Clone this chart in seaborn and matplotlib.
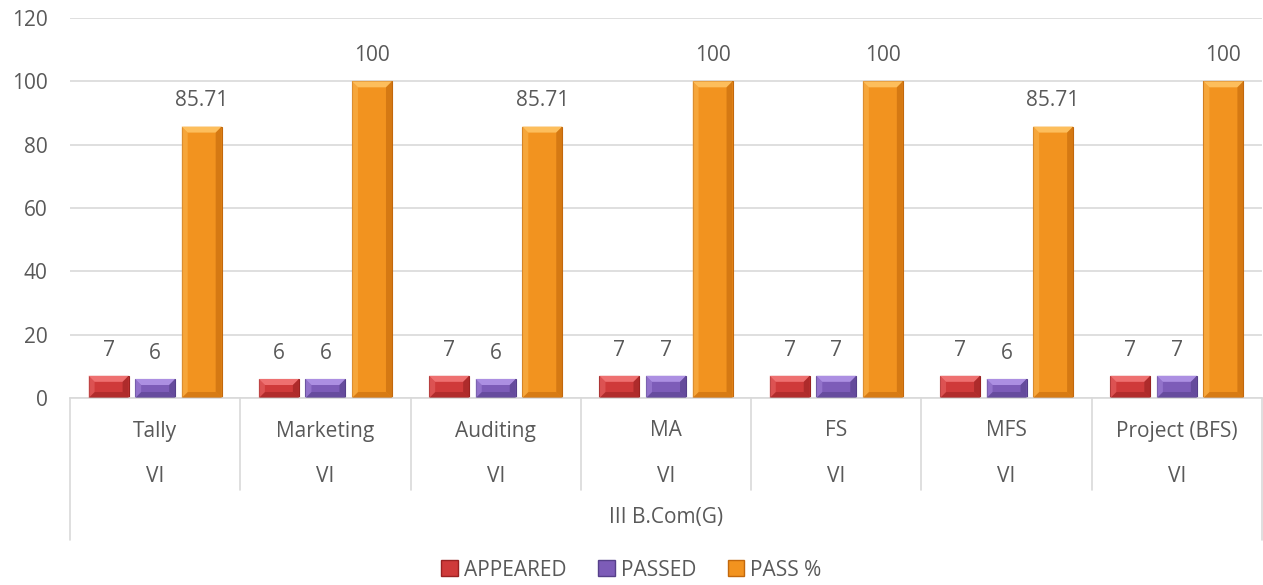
import pandas as pd
import numpy as np
import matplotlib.pyplot as plt
import seaborn as sns
from matplotlib.patches import Polygon, Patch

subjects = ["Tally", "Marketing", "Auditing", "MA", "FS", "MFS", "Project (BFS)"]
semester = ["VI", "VI", "VI", "VI", "VI", "VI", "VI"]
course = "III B.Com(G)"
appeared = [7, 6, 7, 7, 7, 7, 7]
passed = [6, 6, 6, 7, 7, 6, 7]
pass_pct = [85.71, 100, 85.71, 100, 100, 85.71, 100]
series = ["APPEARED", "PASSED", "PASS %"]

base = {"APPEARED": "#CF3A3A", "PASSED": "#7D5CB8", "PASS %": "#F2931F"}
light = {"APPEARED": "#EE7070", "PASSED": "#AC8FE2", "PASS %": "#FDBE5C"}
dark = {"APPEARED": "#992222", "PASSED": "#56408A", "PASS %": "#C2680C"}

df = pd.DataFrame({
    "subject": subjects * 3,
    "series": np.repeat(series, len(subjects)),
    "value": appeared + passed + pass_pct,
})

sns.set_style("white")
plt.rcParams["font.family"] = ["Open Sans", "DejaVu Sans"]
grey = "#595959"
line_c = "#D9D9D9"
fs = 15

fig = plt.figure(figsize=(12.63, 5.85), dpi=100)
ax = fig.add_axes([70 / 1263, 1 - 398 / 585, 1192 / 1263, 380 / 585])

sns.barplot(data=df, x="subject", y="value", hue="series", palette=base,
            width=0.82, ax=ax, legend=False, saturation=1)

ax.set_xlim(-0.5, 6.5)
ax.set_ylim(0, 120)
ax.set_yticks(range(0, 121, 20))
ax.yaxis.grid(True, color=line_c, lw=1.2)
ax.set_axisbelow(True)
for s in ["top", "right", "left"]:
    ax.spines[s].set_visible(False)
ax.spines["bottom"].set_color(line_c)
ax.spines["bottom"].set_linewidth(1.2)
ax.tick_params(axis="y", labelsize=fs, labelcolor=grey, length=0, pad=16)
ax.set_xticks(range(len(subjects)))
ax.set_xticklabels([])
ax.tick_params(axis="x", length=0)
ax.set_xlabel("")
ax.set_ylabel("")

# px -> data scale
sx = 7 / 1192
sy = 120 / 380
bw = 40 * sx
bev_x = 6 * sx
bev_y = 6 * sy

for cont, name in zip(ax.containers, series):
    for bar in cont:
        cx = bar.get_x() + bar.get_width() / 2
        bar.set_x(cx - bw / 2)
        bar.set_width(bw)
        bar.set_edgecolor(dark[name])
        bar.set_linewidth(0.8)
        x0, x1 = cx - bw / 2, cx + bw / 2
        y0, y1 = 0, bar.get_height()
        by = min(bev_y, (y1 - y0) / 2.5)
        # bevel faces
        ax.add_patch(Polygon([(x0, y1), (x1, y1), (x1 - bev_x, y1 - by), (x0 + bev_x, y1 - by)],
                             closed=True, fc=light[name], ec="none", zorder=3))
        ax.add_patch(Polygon([(x0, y0), (x1, y0), (x1 - bev_x, y0 + by), (x0 + bev_x, y0 + by)],
                             closed=True, fc=dark[name], ec="none", alpha=0.55, zorder=3))
        ax.add_patch(Polygon([(x0, y0), (x0, y1), (x0 + bev_x, y1 - by), (x0 + bev_x, y0 + by)],
                             closed=True, fc=light[name], ec="none", alpha=0.45, zorder=3))
        ax.add_patch(Polygon([(x1, y0), (x1, y1), (x1 - bev_x, y1 - by), (x1 - bev_x, y0 + by)],
                             closed=True, fc=dark[name], ec="none", alpha=0.6, zorder=3))
        txt = f"{bar.get_height():g}"
        ax.annotate(txt, (cx, y1), xytext=(0, 11), textcoords="offset points",
                    ha="center", va="bottom", fontsize=fs, color=grey)

# multi-level category axis
trans = ax.get_xaxis_transform()
def fy(px):
    return (398 - px) / 380

for i, (sub, sem) in enumerate(zip(subjects, semester)):
    ax.text(i, fy(431), sub, transform=trans, ha="center", va="center",
            fontsize=fs, color=grey, clip_on=False)
    ax.text(i, fy(477), sem, transform=trans, ha="center", va="center",
            fontsize=fs, color=grey, clip_on=False)
ax.text(3, fy(518), course, transform=trans, ha="center", va="center",
        fontsize=fs, color=grey, clip_on=False)

for b in np.arange(0.5, 6.0, 1.0):
    ax.plot([b, b], [0, fy(490)], transform=trans, color=line_c, lw=1.2, clip_on=False)
for b in [-0.5, 6.5]:
    ax.plot([b, b], [0, fy(540)], transform=trans, color=line_c, lw=1.2, clip_on=False)

handles = [Patch(fc=base[s], ec=dark[s], label=s) for s in series]
fig.legend(handles=handles, loc="center", bbox_to_anchor=(0.5, 1 - 570 / 585), ncol=3,
           frameon=False, fontsize=fs, labelcolor=grey, handlelength=0.8,
           handleheight=0.8, handletextpad=0.3, columnspacing=1.5)

fig.savefig("out.png", dpi=100)
